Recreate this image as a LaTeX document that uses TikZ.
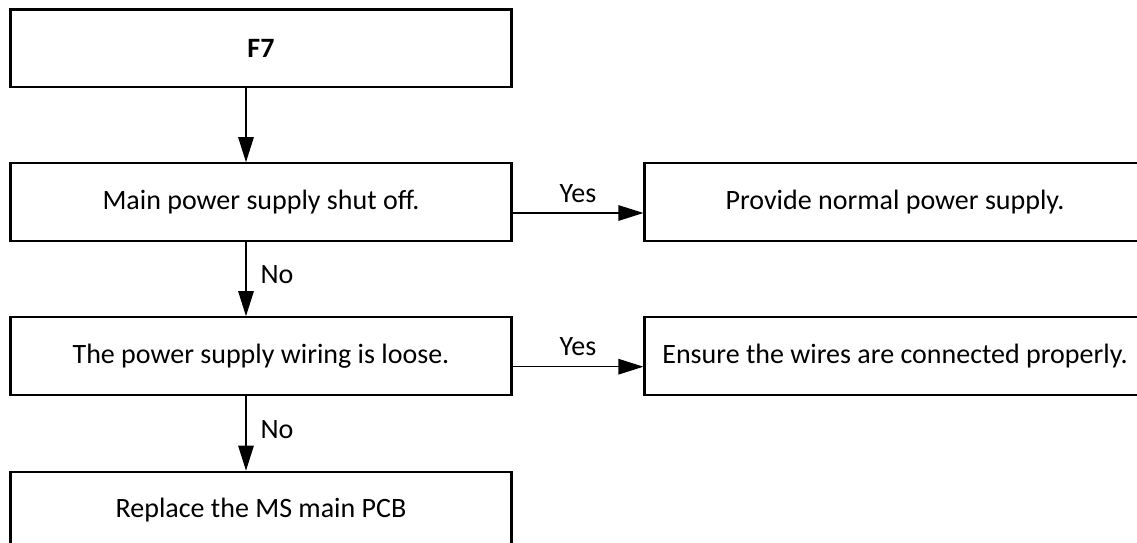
\documentclass[tikz,border=0pt]{standalone}
\usepackage{fontspec}
\setmainfont{Carlito}
\usetikzlibrary{arrows.meta}
\begin{document}
\begin{tikzpicture}[x=1pt,y=-1pt,
  box/.style={draw, line width=2.2pt, minimum width=501pt, minimum height=77.5pt, inner sep=0pt, font=\fontsize{28}{33}\selectfont},
  arr/.style={line width=1.3pt, -{Triangle[length=25pt,width=15.5pt]}},
  lbl/.style={font=\fontsize{28}{33}\selectfont, inner sep=0pt}]
\clip (0,0) rectangle (1137,543);
\fill[white] (0,0) rectangle (1137,543);
\node[box] (f7) at (261,48.3) {\textbf{F7}};
\node[box] (main) at (261,202) {Main power supply shut off.};
\node[box] (wire) at (261,356) {The power supply wiring is loose.};
\node[box] (repl) at (261,510.5) {Replace the MS main PCB};
\node[box] (prov) at (895,202) {Provide normal power supply.};
\node[box] (ens) at (895,356) {Ensure the wires are connected properly.};
\draw[arr] ([xshift=-15pt]f7.south) -- ([xshift=-15pt]main.north);
\draw[arr] ([xshift=-15pt]main.south) -- node[lbl, anchor=west, xshift=14pt, yshift=4pt] (no1) {No} ([xshift=-15pt]wire.north);
\draw[arr] ([xshift=-15pt]wire.south) -- node[lbl, anchor=west, xshift=14pt, yshift=4pt] (no2) {No} ([xshift=-15pt]repl.north);
\draw[arr] ([yshift=-11pt]main.east) -- node[lbl, anchor=south, yshift=10pt] (y1) {Yes} ([yshift=-11pt]prov.west);
\draw[arr] ([yshift=-10.7pt]wire.east) -- node[lbl, anchor=south, yshift=10pt] (y2) {Yes} ([yshift=-10.7pt]ens.west);
\end{tikzpicture}
\end{document}
